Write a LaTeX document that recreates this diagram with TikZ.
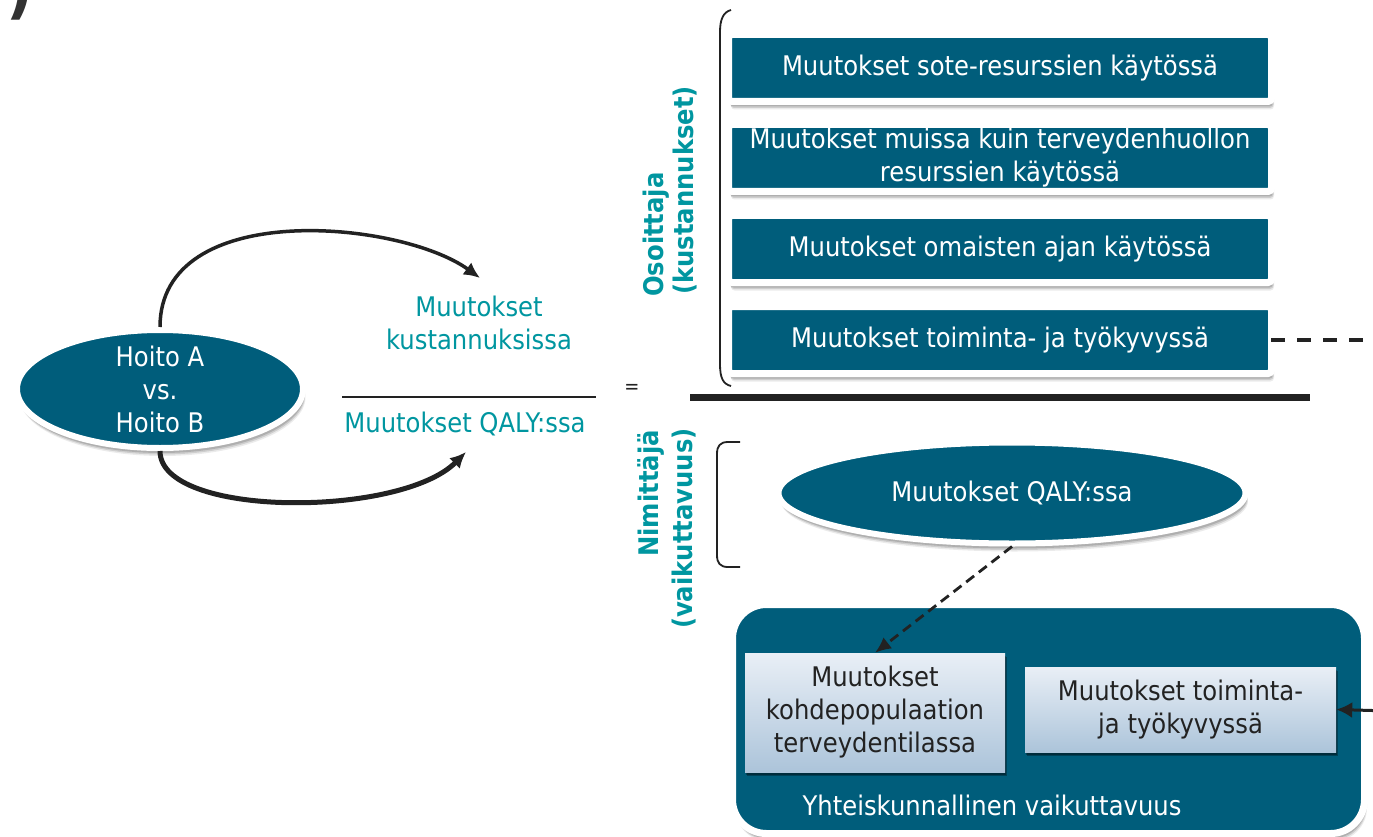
\documentclass[tikz,border=0pt]{standalone}
\usepackage{fontspec}
\setmainfont{DejaVu Sans}[FakeStretch=0.9]
\usetikzlibrary{shapes.geometric,shadows,arrows.meta}
\definecolor{tealdark}{RGB}{0,93,123}
\definecolor{tealtext}{RGB}{0,150,160}
\definecolor{lighttop}{RGB}{233,239,246}
\definecolor{lightbot}{RGB}{172,196,218}
\definecolor{inkgray}{RGB}{34,34,34}
\tikzset{
  txt/.style={font=\fontsize{27}{33}\selectfont, inner sep=0pt, align=center},
  lab/.style={font=\fontsize{27}{33}\selectfont\bfseries, inner sep=0pt, text=tealtext},
  rimshadow/.style={
    drop shadow={shadow xshift=2.5pt, shadow yshift=-8pt, opacity=0.08, fill=black},
    drop shadow={shadow xshift=2pt, shadow yshift=-6.5pt, opacity=0.12, fill=black},
    drop shadow={shadow xshift=1.5pt, shadow yshift=-5pt, opacity=0.15, fill=black}},
  tealbox/.style={txt, rectangle, rounded corners=3.5pt, fill=tealdark, draw=white, line width=7pt, text=white,
    minimum width=543pt, minimum height=67pt, rimshadow},
  tealell/.style={ellipse, fill=tealdark, draw=white, line width=6pt, text=white, inner sep=0pt, rimshadow},
  bigbox/.style={rectangle, rounded corners=34pt, fill=tealdark, draw=white, line width=7pt,
    minimum width=632pt, minimum height=229pt, rimshadow},
  lightbox/.style={txt, rectangle, top color=lighttop, bottom color=lightbot, text=inkgray,
    drop shadow={shadow xshift=2pt, shadow yshift=-4pt, opacity=0.3, fill=black},
    drop shadow={shadow xshift=1pt, shadow yshift=-2.5pt, opacity=0.3, fill=black}},
  bracketline/.style={line width=1.8pt, draw=inkgray},
  curvearrow/.style={draw=inkgray, -{Latex[length=16pt,width=15pt]}},
}
\begin{document}
\begin{tikzpicture}[x=1pt,y=-1pt]
\useasboundingbox (0,0) rectangle (1373,837);
\fill[white] (0,0) rectangle (1373,837);
\clip (0,0) rectangle (1373,837);

% partial label at top left
\node[anchor=base east, font=\fontsize{66}{66}\selectfont\bfseries, text=black!80, inner sep=0pt] (plab) at (34,12) {)};

% left ellipse
\node[tealell, minimum width=286pt, minimum height=118pt] (hoito) at (160,389) {};
\node[txt, text=white] (hoitotxt) at (hoito.center) {Hoito A\\vs.\\Hoito B};

% fraction
\node[txt, text=tealtext] (kust) at (479,323) {Muutokset\\kustannuksissa};
\node[txt, text=tealtext] (qalyfrac) at (465,424) {Muutokset QALY:ssa};
\draw[line width=2pt, inkgray] (342,397) -- (596,397);
\node[font=\fontsize{20}{20}\selectfont, text=inkgray, inner sep=0pt] (eq) at (632,389) {=};

\coordinate (cu) at (480,278);
\coordinate (cl) at (466,452);
\draw[curvearrow, line width=3.5pt] (hoito.north) .. controls (160,198) and (400,220) .. (cu);
\draw[curvearrow, line width=5pt] (hoito.south) .. controls (160,518) and (400,518) .. (cl);

% numerator boxes
\node[tealbox] (b1) at (1000,68) {Muutokset sote-resurssien käytössä};
\node[tealbox] (b2) at (1000,158) {Muutokset muissa kuin terveydenhuollon\\resurssien käytössä};
\node[tealbox] (b3) at (1000,249) {Muutokset omaisten ajan käytössä};
\node[tealbox] (b4) at (1000,340) {Muutokset toiminta- ja työkyvyssä};

% brackets
\draw[bracketline] (731,10) .. controls (723,12) and (720,20) .. (720,32) -- (720,364)
  .. controls (720,378) and (723,384) .. (731,386);
\draw[bracketline] (740,442) -- (728,442) .. controls (720,442) and (717,446) .. (717,454) -- (717,555)
  .. controls (717,563) and (720,567) .. (728,567) -- (740,567);

% vertical labels
\node[lab, rotate=90, anchor=base west] (os1) at (663,297) {Osoittaja};
\node[lab, rotate=90, anchor=base west] (os2) at (693,295) {(kustannukset)};
\node[lab, rotate=90, anchor=base east] (ni1) at (658,430) {Nimittäjä};
\node[lab, rotate=90, anchor=base east] (ni2) at (692,428) {(vaikuttavuus)};

% main rule
\draw[line width=7pt, inkgray] (690,397) -- (1310,397);

% denominator
\node[tealell, txt, text=white, minimum width=467pt, minimum height=101pt] (qaly) at (1012,493) {Muutokset QALY:ssa};

\node[bigbox] (big) at (1048.5,719) {};
\node[lightbox, minimum width=260pt, minimum height=119pt] (in1) at (875,712.5) {Muutokset\\kohdepopulaation\\terveydentilassa};
\node[lightbox, minimum width=311pt, minimum height=85pt] (in2) at (1180.5,709.5) {Muutokset toiminta-\\ja työkyvyssä};
\node[txt, text=white] (yv) at (992,805) {Yhteiskunnallinen vaikuttavuus};

% connectors
\draw[inkgray, line width=2.8pt, dash pattern=on 10pt off 6pt, -{Latex[length=16pt,width=14pt]}] (qaly.south) -- (in1.north);
\coordinate (dr) at (1390,340);
\draw[inkgray, line width=4.5pt, dash pattern=on 14pt off 12pt] ([xshift=-4pt]b4.east) -- (dr);
\coordinate (ar) at (1390,711);
\draw[inkgray, line width=3pt, -{Latex[length=16pt,width=16pt]}] (ar) -- (in2.east);
\end{tikzpicture}
\end{document}
